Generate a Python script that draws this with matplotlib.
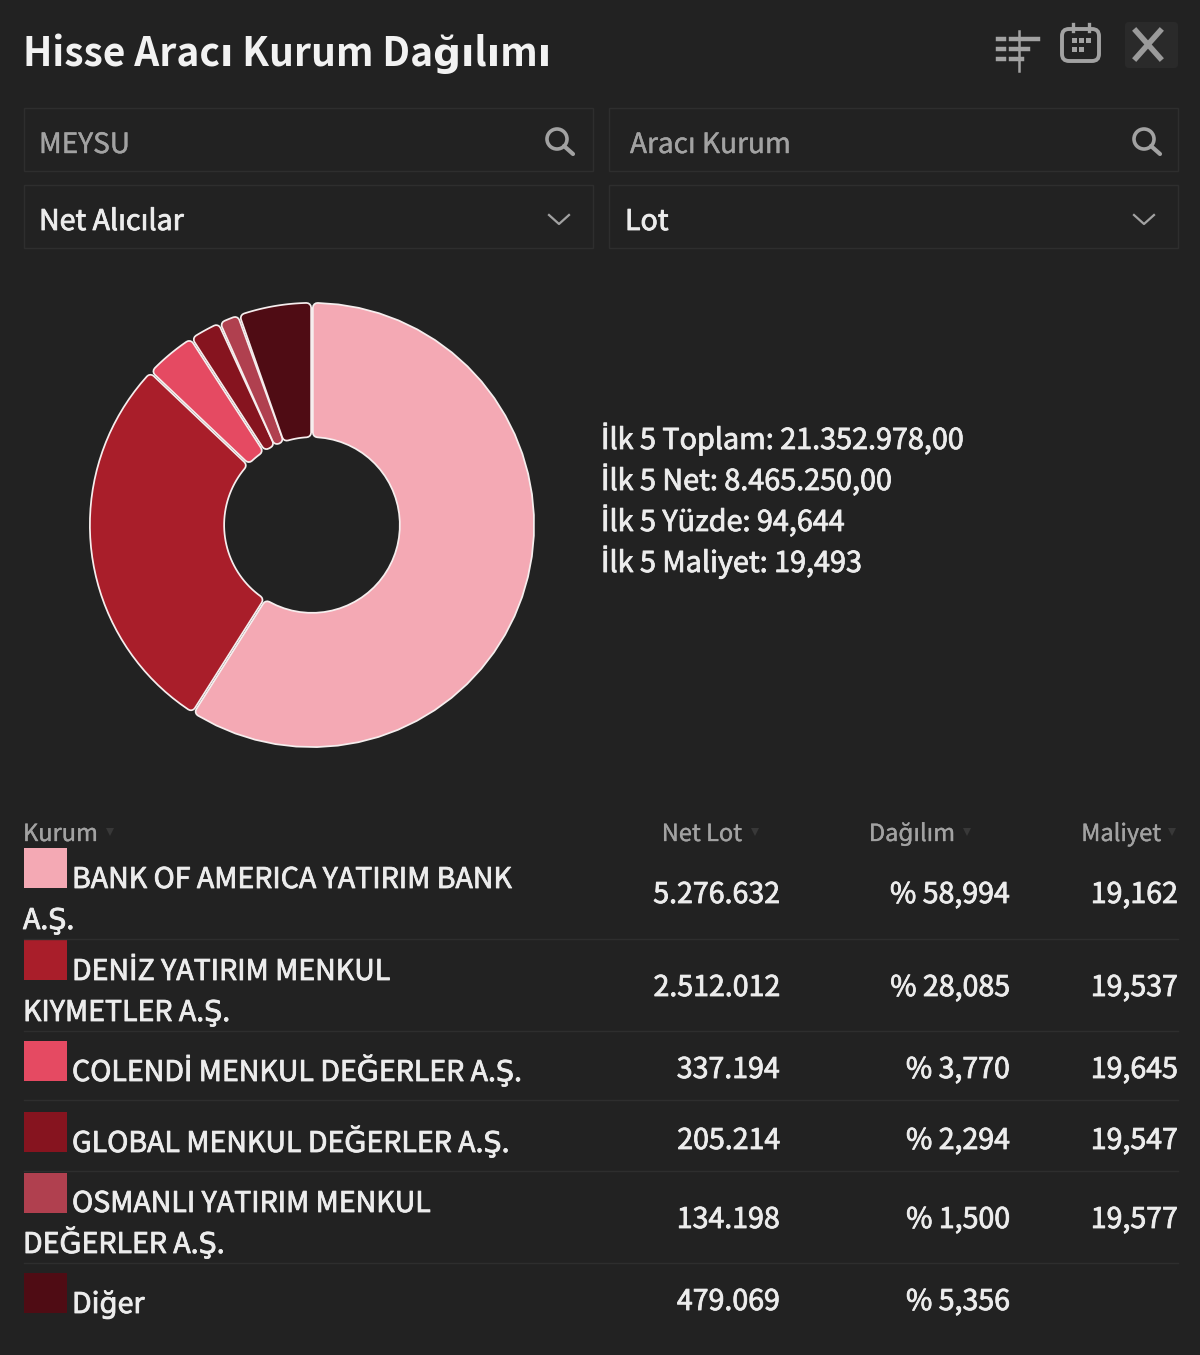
import matplotlib
matplotlib.use("Agg")
import matplotlib.pyplot as plt
import matplotlib.patheffects as pe
import numpy as np
from matplotlib.path import Path
from matplotlib.patches import Rectangle, Circle, FancyBboxPatch, PathPatch

plt.rcParams['font.family'] = ['Noto Sans CJK SC', 'DejaVu Sans']

# data
kurum = [
    "BANK OF AMERICA YATIRIM BANK\nA.Ş.",
    "DENİZ YATIRIM MENKUL\nKIYMETLER A.Ş.",
    "COLENDİ MENKUL DEĞERLER A.Ş.",
    "GLOBAL MENKUL DEĞERLER A.Ş.",
    "OSMANLI YATIRIM MENKUL\nDEĞERLER A.Ş.",
    "Diğer",
]
net_lot = [5276632, 2512012, 337194, 205214, 134198, 479069]
dagilim = ["% 58,994", "% 28,085", "% 3,770", "% 2,294", "% 1,500", "% 5,356"]
maliyet = ["19,162", "19,537", "19,645", "19,547", "19,577", ""]
renkler = ["#f4a9b4", "#a91e2a", "#e54a62", "#86141f", "#b0404f", "#4f0c14"]
ozet = [
    "İlk 5 Toplam: 21.352.978,00",
    "İlk 5 Net: 8.465.250,00",
    "İlk 5 Yüzde: 94,644",
    "İlk 5 Maliyet: 19,493",
]
basliklar = ["Net Lot", "Dağılım", "Maliyet"]

# layout in pixels
W, H = 1200, 1355
BG = "#222222"
LINE = "#2e2e2e"
TXT = "#ececec"
GRAY = "#a2a2a2"
swatch_top = [848, 940, 1041, 1112, 1173, 1273]
row_base = [888, 980, 1081, 1152, 1212, 1313]
value_base = [903, 996, 1078, 1149, 1228, 1310]
dividers = [939, 1031, 1100, 1171, 1263]
header_right = [742, 955, 1161]
caret_x = [755, 967, 1172]
col_right = [780, 1010, 1178]
FS = 20.55
R_OUT, R_IN = 223, 87


def px(size):
    return size * 0.72


fig = plt.figure(figsize=(12, 13.55), dpi=100, facecolor=BG)
ax = fig.add_axes([0, 0, 1, 1])
ax.set_xlim(0, W)
ax.set_ylim(H, 0)
ax.axis("off")


def yazi(x, y, s, size=FS, color=TXT, kalin=0.6, **kw):
    # a thin outline stands in for the heavier look of the browser text
    t = ax.text(x, y, s, fontsize=size, color=color, va="baseline", **kw)
    t.set_path_effects([pe.withStroke(linewidth=kalin, foreground=color)])
    return t


def search_icon(cx, cy):
    ax.add_patch(Circle((cx, cy), 10, fill=False, ec=GRAY, lw=2.6))
    ax.plot([cx + 7, cx + 16], [cy + 7, cy + 15], color=GRAY, lw=3, solid_capstyle="round")


def chevron(cx, cy):
    ax.plot([cx - 10, cx, cx + 10], [cy - 5, cy + 4, cy - 5], color=GRAY, lw=1.6)


def caret(cx, cy=832):
    ax.plot([cx], [cy], marker="v", ms=6, color="#383838", mew=0)


# title
ax.text(23, 66, "Hisse Aracı Kurum Dağılımı", fontsize=px(39), fontweight="bold",
        color="#f2f2f2", va="baseline")

# top right icons
for y, x2 in [(39, 1038), (49, 1028), (59, 1022)]:
    ax.plot([998, 1004], [y, y], color=GRAY, lw=3.2)
    ax.plot([1011, x2], [y, y], color=GRAY, lw=3.2)
ax.plot([1019, 1019], [31, 71], color=GRAY, lw=1.8)
ax.add_patch(FancyBboxPatch((1062, 29), 37, 32, boxstyle="round,pad=0,rounding_size=7",
                            fill=False, ec=GRAY, lw=2.8))
ax.plot([1073, 1073], [24, 31], color=GRAY, lw=2.4)
ax.plot([1089, 1089], [24, 31], color=GRAY, lw=2.4)
for gx, gy in [(1074, 40), (1081, 40), (1088, 40), (1074, 49), (1081, 49)]:
    ax.add_patch(Rectangle((gx - 2.5, gy - 2.5), 5, 5, color=GRAY, lw=0))
ax.add_patch(FancyBboxPatch((1125, 22), 53, 46, boxstyle="round,pad=0,rounding_size=4",
                            color="#2a2a2a", lw=0))
ax.plot([1136, 1160], [31, 58], color="#9a9a9a", lw=4)
ax.plot([1160, 1136], [31, 58], color="#9a9a9a", lw=4)

# inputs and selects
for x0 in [24, 609]:
    for y0 in [108, 185]:
        ax.add_patch(Rectangle((x0, y0), 569, 63, fill=False, ec=LINE, lw=1))
yazi(39, 153, "MEYSU", size=px(28), color=GRAY, kalin=0.3)
yazi(630, 153, "Aracı Kurum", size=px(28), color=GRAY, kalin=0.3)
search_icon(557, 139)
search_icon(1144, 139)
yazi(39, 230, "Net Alıcılar")
yazi(625, 230, "Lot")
chevron(559, 220)
chevron(1144, 220)

# summary next to the donut
for i, satir in enumerate(ozet):
    yazi(601, 449 + i * 41, satir, size=20.7)

# table header
yazi(23, 841, "Kurum", size=px(23.6), color=GRAY, kalin=0.25)
caret(110)
for baslik, xr, cx in zip(basliklar, header_right, caret_x):
    yazi(xr, 841, baslik, size=px(23.6), color=GRAY, kalin=0.25, ha="right")
    caret(cx)

# table rows
for i, ad in enumerate(kurum):
    ax.add_patch(Rectangle((24, swatch_top[i]), 43, 40, color=renkler[i], lw=0))
    parca = ad.split("\n")
    yazi(72, row_base[i], parca[0])
    if len(parca) > 1:
        yazi(23, row_base[i] + 41, parca[1])
    lot = f"{net_lot[i]:,}".replace(",", ".")
    for metin, xr in zip([lot, dagilim[i], maliyet[i]], col_right):
        yazi(xr, value_base[i], metin, ha="right")
for y in dividers:
    ax.plot([24, 1178], [y, y], color=LINE, lw=1)

# donut, axes sized so that radius 1 is R_OUT px around (312, 525)
span = 2.5 * R_OUT
pie_ax = fig.add_axes([(312 - span / 2) / W, 1 - (525 + span / 2) / H, span / W, span / H])
pie_ax.patch.set_alpha(0)
wedges, _ = pie_ax.pie(net_lot, colors=renkler, startangle=90, counterclock=False,
                       wedgeprops=dict(width=(R_OUT - R_IN) / R_OUT))


def inset_outline(theta1, theta2, inset):
    # wedge outline pulled in by a constant number of pixels, the stroke rounds it back out
    half = (theta2 - theta1) / 2
    pts = []
    for r, sign in [(R_OUT - inset, 1), (R_IN + inset, -1)]:
        off = min(np.degrees(np.arcsin(inset / r)), half * 0.9)
        angs = np.linspace(theta1 + off, theta2 - off, 40)[::sign]
        pts += [(r / R_OUT * np.cos(np.radians(a)), r / R_OUT * np.sin(np.radians(a))) for a in angs]
    return Path(pts + [pts[0]], closed=True)


# rounded slices on top of the pie's own wedges
for w, renk in zip(wedges, renkler):
    w.set_visible(False)
    yol = inset_outline(w.theta1, w.theta2, 5.5)
    pie_ax.add_patch(PathPatch(yol, fc="#f6eeee", ec="#f6eeee", lw=px(11), joinstyle="round"))
    pie_ax.add_patch(PathPatch(yol, fc=renk, ec=renk, lw=px(7.5), joinstyle="round"))

fig.savefig("out.png", dpi=100, facecolor=BG)
